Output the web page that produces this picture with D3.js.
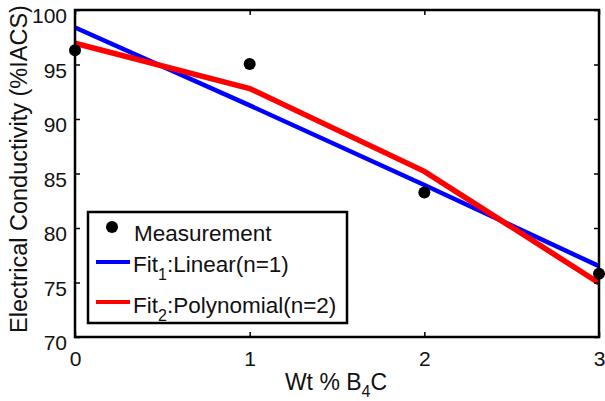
<!DOCTYPE html>
<html>
<head>
<meta charset="utf-8">
<script src="https://cdn.jsdelivr.net/npm/d3@7"></script>
<style>
  body { margin: 0; background: #fff; }
  svg text { font-family: "Liberation Sans", Arial, sans-serif; fill: #111; }
</style>
</head>
<body>
<svg id="chart" width="605" height="401"></svg>
<script>
// values
var wt = [0, 1, 2, 3];
var measured = [96.3, 95.05, 83.25, 75.8];
var fitLinear = [98.4, 91.25, 83.95, 76.5];
var fitPoly = [96.95, 92.8, 85.2, 74.95];
var xTicks = [0, 1, 2, 3];
var yTicks = [70, 75, 80, 85, 90, 95, 100];

var svg = d3.select("#chart"),
    margin = {top: 10, left: 75, bottom: 64, right: 6},
    width = 605, height = 401;

var x = d3.scaleLinear().domain([0, 3]).range([margin.left, width - margin.right]);
var y = d3.scaleLinear().domain([70, 100]).range([height - margin.bottom, margin.top]);

var line = d3.line().x((d, i) => x(wt[i])).y(d => y(d));

// fits
svg.append("path").datum(fitLinear)
    .attr("d", line).attr("fill", "none")
    .attr("stroke", "#0000ff").attr("stroke-width", 4.5);
svg.append("path").datum(fitPoly)
    .attr("d", line).attr("fill", "none")
    .attr("stroke", "#ff0000").attr("stroke-width", 5.5);

// axes (box with inward ticks)
var tl = 5;
svg.append("g").attr("transform", `translate(${x(0)},0)`)
    .call(d3.axisLeft(y).tickValues(yTicks).tickSize(-tl).tickPadding(8).tickSizeOuter(0))
    .call(g => g.selectAll("text").attr("dy", "0.6em").attr("font-size", "21px"));
svg.append("g").attr("transform", `translate(${x(3)},0)`)
    .call(d3.axisRight(y).tickValues(yTicks).tickSize(-tl).tickFormat("").tickSizeOuter(0));
svg.append("g").attr("transform", `translate(0,${y(70)})`)
    .call(d3.axisBottom(x).tickValues(xTicks).tickSize(-tl).tickPadding(14).tickFormat(d3.format("d")).tickSizeOuter(0))
    .call(g => g.selectAll("text").attr("font-size", "21px"));
svg.append("g").attr("transform", `translate(0,${y(100)})`)
    .call(d3.axisTop(x).tickValues(xTicks).tickSize(-tl).tickFormat("").tickSizeOuter(0));
svg.selectAll(".domain").remove();
svg.selectAll(".tick line").attr("stroke", "#000").attr("stroke-width", 1.5);
svg.append("rect")
    .attr("x", x(0)).attr("y", y(100))
    .attr("width", x(3) - x(0)).attr("height", y(70) - y(100))
    .attr("fill", "none").attr("stroke", "#000").attr("stroke-width", 2.5);

// measurement dots
svg.selectAll("circle.meas").data(measured).enter().append("circle")
    .attr("class", "meas")
    .attr("cx", (d, i) => x(wt[i])).attr("cy", d => y(d))
    .attr("r", 6).attr("fill", "#000");

// axis titles
var xt = svg.append("text")
    .attr("x", 336).attr("y", 390)
    .attr("text-anchor", "middle").attr("font-size", "23px");
xt.append("tspan").text("Wt % B");
xt.append("tspan").attr("dy", 7).attr("font-size", "16px").text("4");
xt.append("tspan").attr("dy", -7).text("C");

svg.append("text")
    .attr("transform", "translate(27,169) rotate(-90)")
    .attr("text-anchor", "middle").attr("font-size", "23.5px")
    .text("Electrical Conductivity (%IACS)");

// legend
var lg = svg.append("g");
lg.append("rect")
    .attr("x", 88).attr("y", 212).attr("width", 259).attr("height", 111)
    .attr("fill", "#fff").attr("stroke", "#000").attr("stroke-width", 2.5);
lg.append("circle").attr("cx", 112).attr("cy", 227).attr("r", 6).attr("fill", "#000");
lg.append("text").attr("x", 134).attr("y", 241).attr("font-size", "22.5px").text("Measurement");

lg.append("line").attr("x1", 96).attr("x2", 130).attr("y1", 262).attr("y2", 262)
    .attr("stroke", "#0000ff").attr("stroke-width", 4);
var t1 = lg.append("text").attr("x", 133).attr("y", 272).attr("font-size", "22.5px");
t1.append("tspan").text("Fit");
t1.append("tspan").attr("dy", 8).attr("font-size", "16px").text("1");
t1.append("tspan").attr("dy", -8).text(":Linear(n=1)");

lg.append("line").attr("x1", 96).attr("x2", 130).attr("y1", 302).attr("y2", 302)
    .attr("stroke", "#ff0000").attr("stroke-width", 4);
var t2 = lg.append("text").attr("x", 133).attr("y", 313).attr("font-size", "22.5px");
t2.append("tspan").text("Fit");
t2.append("tspan").attr("dy", 8).attr("font-size", "16px").text("2");
t2.append("tspan").attr("dy", -8).text(":Polynomial(n=2)");
</script>
</body>
</html>
